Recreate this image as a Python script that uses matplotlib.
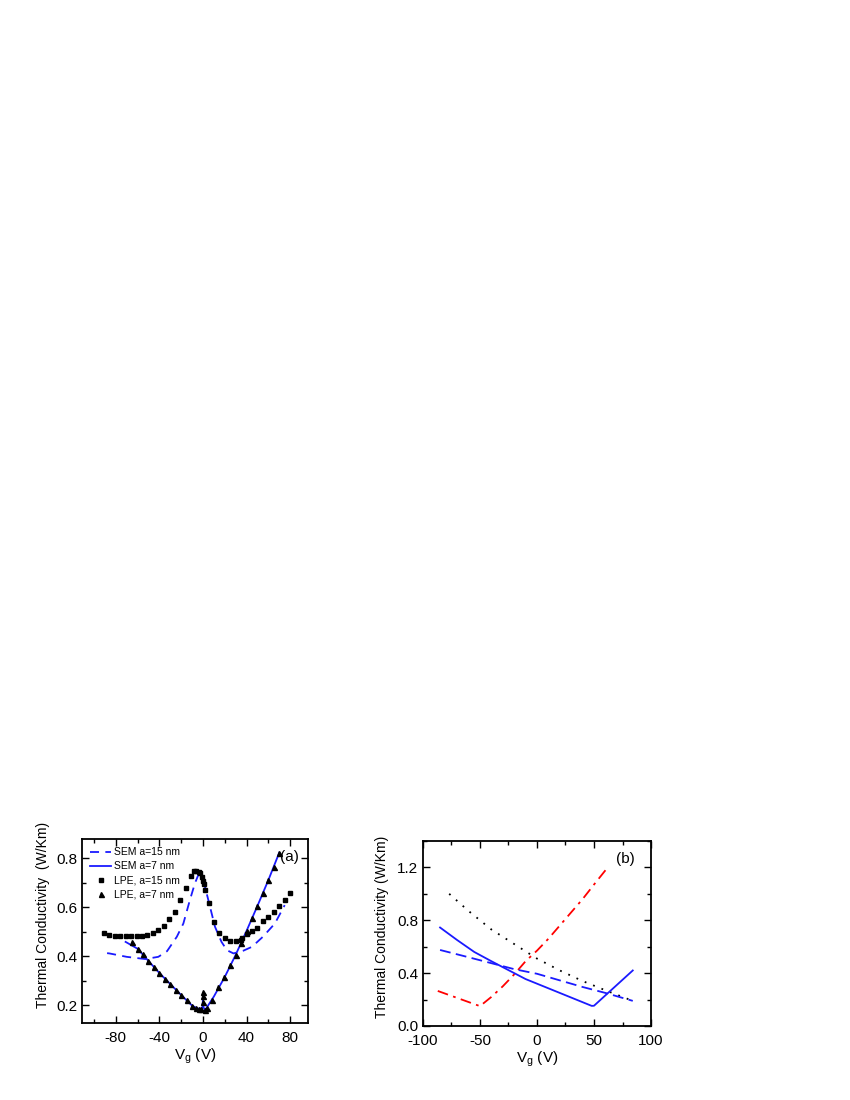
import matplotlib
matplotlib.use("Agg")
import matplotlib.pyplot as plt
import numpy as np
from matplotlib.ticker import MultipleLocator

plt.rcParams['font.family'] = ['Liberation Sans', 'DejaVu Sans']
plt.rcParams['axes.unicode_minus'] = False

# panel (a): SEM curves and LPE points
sem15_vg = [-88, -86, -70, -53, -41, -33, -24, -18, -12, -7.4, -4.3, -3, 0.3, 4.9, 11, 17, 22, 28, 37, 45,
            55, 66, 75]
sem15_k = [0.412, 0.411, 0.397, 0.388, 0.397, 0.42, 0.479, 0.533, 0.629, 0.697, 0.731, 0.735, 0.71, 0.629,
           0.52, 0.458, 0.424, 0.411, 0.422, 0.438, 0.479, 0.533, 0.608]

sem7_vg = [-71, -60, -50, -40, -30, -20, -10, -5, -2, -0.5, 0, 0.5, 2, 10, 20, 30, 40, 50, 60, 70]
sem7_k = [0.458, 0.43, 0.38, 0.331, 0.286, 0.241, 0.198, 0.186, 0.185, 0.19, 0.225, 0.19, 0.18, 0.235,
          0.315, 0.405, 0.503, 0.605, 0.71, 0.822]

lpe15_vg = [-91, -86, -81, -76, -71, -66, -61, -56, -51, -46, -41, -36, -31, -26, -21, -16, -11, -8, -6, -4,
            -2.5, -1.2, 0, 1, 2, 5.5, 10, 15, 20, 25, 30, 34.5, 36, 40, 45, 50, 55, 60, 65, 70, 75, 80]
lpe15_k = [0.495, 0.486, 0.484, 0.483, 0.482, 0.480, 0.480, 0.482, 0.486, 0.494, 0.506, 0.524, 0.551, 0.581,
           0.627, 0.676, 0.727, 0.746, 0.747, 0.745, 0.741, 0.721, 0.706, 0.694, 0.669, 0.615, 0.540, 0.495,
           0.472, 0.462, 0.462, 0.465, 0.473, 0.490, 0.501, 0.516, 0.544, 0.560, 0.581, 0.605, 0.629, 0.656]

lpe7_vg = [-65, -60, -55, -50, -45, -40, -35, -30, -25, -20, -15, -10, -6, -4, -2, 0, 0, 0, 2, 4, 8, 14, 19,
           25, 30, 35, 40, 45, 50, 55, 60, 65, 70]
lpe7_k = [0.456, 0.431, 0.407, 0.381, 0.356, 0.331, 0.308, 0.286, 0.262, 0.241, 0.219, 0.198, 0.187, 0.185,
          0.186, 0.255, 0.236, 0.214, 0.18, 0.188, 0.22, 0.272, 0.313, 0.363, 0.405, 0.455, 0.503, 0.554,
          0.605, 0.656, 0.71, 0.765, 0.822]

# panel (b): four model curves
dot_vg = [-77, -60, -50, -40, -20, 0, 20, 40, 60, 84]
dot_k = [1.0, 0.87, 0.8, 0.73, 0.62, 0.51, 0.42, 0.34, 0.27, 0.19]

red_vg = [-87, -50, -40, -30, -20, -10, 0, 10, 20, 30, 40, 50, 63]
red_k = [0.265, 0.15, 0.22, 0.30, 0.39, 0.49, 0.57, 0.66, 0.76, 0.86, 0.96, 1.07, 1.21]

solid_vg = [-85, -70, -55, -40, -30, -20, -10, 0, 10, 20, 30, 40, 48, 50, 84]
solid_k = [0.745, 0.65, 0.56, 0.49, 0.445, 0.40, 0.355, 0.32, 0.285, 0.25, 0.215, 0.18, 0.152, 0.153, 0.42]

dash_vg = [-85, -60, -40, -20, 0, 20, 40, 60, 84]
dash_k = [0.575, 0.52, 0.475, 0.43, 0.395, 0.345, 0.295, 0.25, 0.19]

fs = 11
blue = '#1a1aff'


def style_axes(ax):
    for sp in ax.spines.values():
        sp.set_linewidth(1.3)
    ax.tick_params(which='both', direction='in', top=True, right=True, width=1.0, labelsize=fs)
    ax.tick_params(which='major', length=5)
    ax.tick_params(which='minor', length=3)
    ax.tick_params(axis='x', which='both', pad=5.5)


fig = plt.figure(figsize=(8.5, 11), dpi=100)

# ---- panel (a)
ax1 = fig.add_axes([0.0965, 0.070, 0.266, 0.1673])
ax1.plot(sem15_vg, sem15_k, color=blue, lw=1.3, ls=(0, (5, 3.5)), label='SEM a=15 nm')
ax1.plot(sem7_vg, sem7_k, color=blue, lw=1.3, label='SEM a=7 nm')
ax1.plot(lpe15_vg, lpe15_k, ls='none', marker='s', ms=3.2, color='black', label='LPE, a=15 nm')
ax1.plot(lpe7_vg, lpe7_k, ls='none', marker='^', ms=3.6, color='black', label='LPE, a=7 nm')
ax1.set_xlim(-111, 96.5)
ax1.set_ylim(0.127, 0.878)
ax1.xaxis.set_major_locator(MultipleLocator(40))
ax1.xaxis.set_minor_locator(MultipleLocator(20))
ax1.yaxis.set_major_locator(MultipleLocator(0.2))
ax1.yaxis.set_minor_locator(MultipleLocator(0.1))
ax1.set_xlabel('V$_\\mathregular{g}$ (V)', fontsize=fs, labelpad=1)
ax1.set_ylabel('Thermal Conductivity  (W/Km)', fontsize=10)
ax1.yaxis.set_label_coords(-0.14, 0.587)
style_axes(ax1)
ax1.legend(loc='upper left', frameon=False, fontsize=7.5, handlelength=2.0, handletextpad=0.25,
           labelspacing=0.38, borderaxespad=0.6, borderpad=0.2, numpoints=1)
ax1.text(0.96, 0.9, '(a)', transform=ax1.transAxes, fontsize=fs, ha='right', va='center')

# ---- panel (b)
ax2 = fig.add_axes([0.4976, 0.0673, 0.2683, 0.1682])
ax2.plot(dot_vg, dot_k, color='black', lw=1.3, ls=(0, (1, 4)))
ax2.plot(red_vg, red_k, color='red', lw=1.3, ls=(0, (6, 3, 1.5, 3)))
ax2.plot(solid_vg, solid_k, color=blue, lw=1.3)
ax2.plot(dash_vg, dash_k, color=blue, lw=1.3, ls=(0, (6, 3)))
ax2.set_xlim(-100, 100)
ax2.set_ylim(0, 1.4)
ax2.xaxis.set_major_locator(MultipleLocator(50))
ax2.xaxis.set_minor_locator(MultipleLocator(25))
ax2.yaxis.set_major_locator(MultipleLocator(0.4))
ax2.yaxis.set_minor_locator(MultipleLocator(0.2))
ax2.set_xlabel('V$_\\mathregular{g}$ (V)', fontsize=fs, labelpad=1)
ax2.set_ylabel('Thermal Conductivity (W/Km)', fontsize=10)
ax2.yaxis.set_label_coords(-0.15, 0.535)
style_axes(ax2)
ax2.text(0.93, 0.9, '(b)', transform=ax2.transAxes, fontsize=fs, ha='right', va='center')

fig.savefig('out.png', dpi=100)
